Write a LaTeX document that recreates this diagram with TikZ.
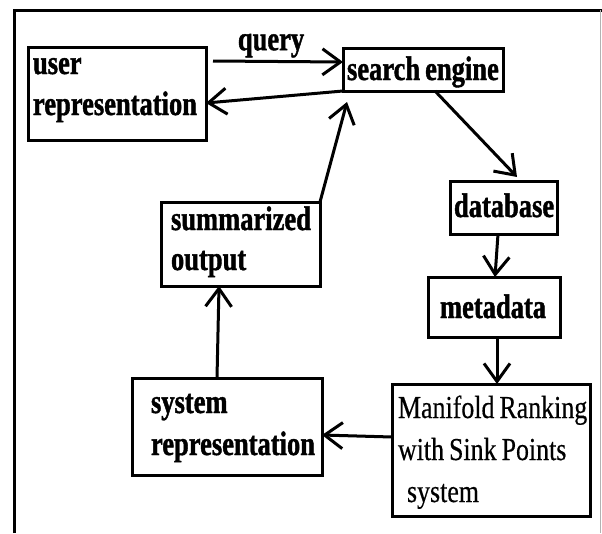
\documentclass[tikz,border=0pt]{standalone}
\usepackage{fontspec}
\newfontfamily\bfnt{Liberation Serif}[FakeStretch=0.78, BoldFeatures={FakeBold=1.2}]
\newfontfamily\rgfnt{Liberation Serif}[FakeStretch=0.81, FakeBold=0.4]
\usetikzlibrary{arrows.meta}
\newcommand\gap{\hspace*{5pt}}
\tikzset{
  box/.style={draw, line width=3pt, anchor=north west, inner ysep=0pt, outer sep=0pt, align=left},
  bf/.style={font=\bfnt\bfseries\fontsize{34pt}{41pt}\selectfont},
  bfb/.style={font=\bfnt\bfseries\fontsize{34pt}{#1}\selectfont},
  rg/.style={font=\rgfnt\fontsize{32pt}{42pt}\selectfont},
  arr/.style={line width=3pt, -{Straight Barb[length=18pt,width=26pt]}},
  frame/.style={line width=3pt}
}
\begin{document}
\begin{tikzpicture}[x=1pt,y=-1pt]
\fill[white] (0,0) rectangle (602,533);
\useasboundingbox (0,0) rectangle (602,533);
\draw[frame] (14,533) -- (14,10) -- (602,10);
\draw[line width=1.2pt, gray!60] (600.5,10) -- (600.5,533);

\node[box,bf,text width=168pt,inner xsep=5pt,text height=27pt,text depth=66pt] (user) at (28,47) {\mbox{user}\\\mbox{representation}};
\node[box,bf,text width=152pt,inner xsep=4pt,text height=32pt,text depth=11pt] (search) at (343,48) {\mbox{search\gap engine}};
\node[box,bf,text width=99pt,inner xsep=4pt,text height=36pt,text depth=17pt] (db) at (450,181) {\mbox{database}};
\node[box,bf,text width=108pt,inner xsep=12pt,text height=41pt,text depth=19pt] (meta) at (428,277) {\mbox{metadata}};
\node[box,rg,text width=186pt,inner xsep=6pt,text height=34pt,text depth=98pt] (mani) at (392,384) {\mbox{Manifold\gap Ranking}\\\mbox{with\gap Sink\gap Points}\\\mbox{\hspace*{9pt}system}};
\node[box,bfb=42pt,text width=152pt,inner xsep=19pt,text height=35pt,text depth=62pt] (sys) at (132,378) {\mbox{system}\\\mbox{representation}};
\node[box,bfb=40pt,text width=139pt,inner xsep=10pt,text height=28pt,text depth=56pt] (summ) at (161,202) {\mbox{summarized}\\\mbox{output}};

\draw[arr] ([xshift=7pt,yshift=-14pt]user.north east) -- node[pos=0.18,anchor=base west,yshift=11pt,inner sep=0pt,bf] (q) {query} ([yshift=-14pt]search.north west);
\draw[arr] (search.south west) -- ([yshift=-56pt]user.north east);
\draw[arr] (summ.north east) -- ([xshift=4pt,yshift=-11pt]search.south west);
\draw[arr] ([xshift=-68pt]search.south east) -- ([xshift=67pt,yshift=4pt]db.north west);
\draw[arr] ([xshift=48pt]db.south west) -- ([xshift=67pt]meta.north west);
\draw[arr] ([xshift=69pt]meta.south west) -- ([xshift=105pt]mani.north west);
\draw[arr] ([yshift=-53pt]mani.north west) -- ([yshift=-57pt]sys.north east);
\draw[arr] ([xshift=85pt]sys.north west) -- ([xshift=58pt]summ.south west);
\end{tikzpicture}
\end{document}
